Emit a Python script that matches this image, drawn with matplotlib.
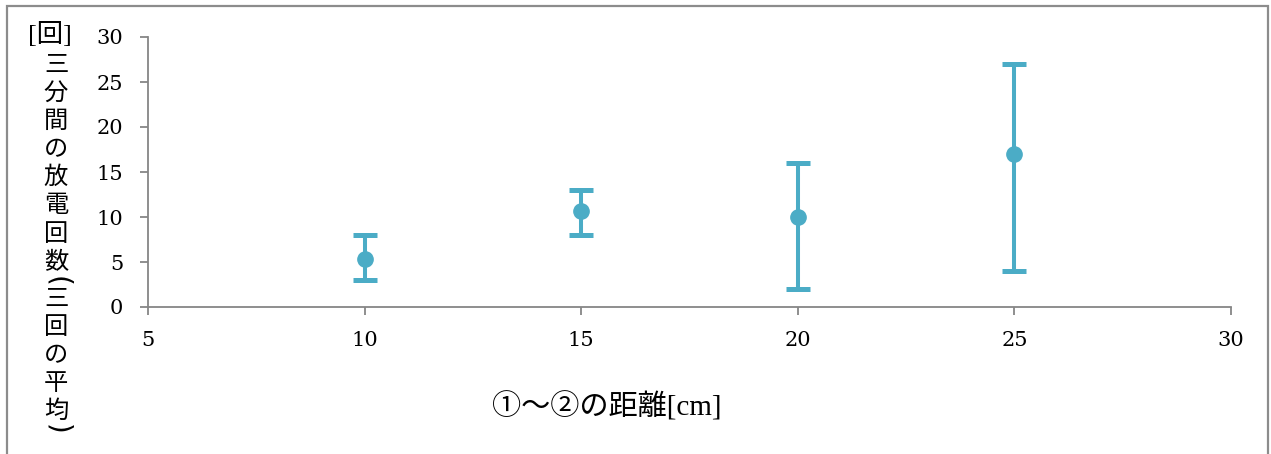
import matplotlib
matplotlib.use("Agg")
import matplotlib.pyplot as plt
from matplotlib.patches import Rectangle

# Distance between electrodes ① and ② [cm]
distance = [10, 15, 20, 25]
# Mean discharge count over three minutes (average of three trials)
mean_count = [16 / 3, 32 / 3, 10, 17]
min_count = [3, 8, 2, 4]
max_count = [8, 13, 16, 27]

x_ticks = [5, 10, 15, 20, 25, 30]
y_ticks = [0, 5, 10, 15, 20, 25, 30]

ylabel_head = "[回]"
ylabel_chars = ["三", "分", "間", "の", "放", "電", "回", "数", "(",
                "三", "回", "の", "平", "均", ")"]
xlabel = "①～②の距離[cm]"

W, H = 1271, 454
fig = plt.figure(figsize=(W / 100, H / 100), dpi=100)
ax = fig.add_axes([148 / W, 1 - 307 / H, (1231 - 148) / W, (307 - 37) / H])

color = "#4BACC6"
axis_gray = "#868686"
num_font = "DejaVu Serif"
cjk = ["Liberation Serif", "Noto Sans CJK JP"]

lower = [m - lo for m, lo in zip(mean_count, min_count)]
upper = [hi - m for m, hi in zip(mean_count, max_count)]
ax.errorbar(distance, mean_count, yerr=[lower, upper], fmt="o",
            color=color, ecolor=color, markersize=11, elinewidth=2.9,
            capsize=8.3, capthick=3.6, zorder=3)

ax.set_xlim(5, 30)
ax.set_ylim(0, 30)
ax.set_xticks(x_ticks)
ax.set_yticks(y_ticks)
ax.set_xticklabels([str(v) for v in x_ticks], fontfamily=num_font, fontsize=15)
ax.set_yticklabels([str(v) for v in y_ticks], fontfamily=num_font, fontsize=15)

for side in ("top", "right"):
    ax.spines[side].set_visible(False)
for side in ("left", "bottom"):
    ax.spines[side].set_color(axis_gray)
    ax.spines[side].set_linewidth(1.3)
ax.tick_params(axis="y", direction="out", length=6, width=1.3,
               color=axis_gray, pad=12, labelcolor="black")
ax.tick_params(axis="x", direction="out", length=6, width=1.3,
               color=axis_gray, pad=11, labelcolor="black")

# Vertical axis title, stacked one character per line
fig.text(50 / W, 1 - 34 / H, ylabel_head, fontfamily=cjk, fontsize=19,
         ha="center", va="center")
char_y = [65, 93, 121, 149, 177, 205, 234, 262, 281,
          299, 327, 355, 383, 411, 429]
for ch, cy in zip(ylabel_chars, char_y):
    if ch in "()":
        fig.text(57 / W, 1 - cy / H, ch, fontfamily="DejaVu Sans",
                 fontsize=20, rotation=-90, ha="center", va="center")
    else:
        fig.text(56 / W, 1 - cy / H, ch, fontfamily=["Noto Sans CJK JP"],
                 fontsize=17.5, ha="center", va="center")

fig.text(607 / W, 1 - 407 / H, xlabel, fontfamily=cjk, fontsize=21,
         ha="center", va="center")

# Frame around the chart area
fig.patches.append(Rectangle((7 / W, -0.05), (1268 - 7) / W, 1.05 - 6 / H,
                             transform=fig.transFigure, fill=False,
                             edgecolor="#8c8c8c", linewidth=1.6))

fig.savefig("out.png", dpi=100)
